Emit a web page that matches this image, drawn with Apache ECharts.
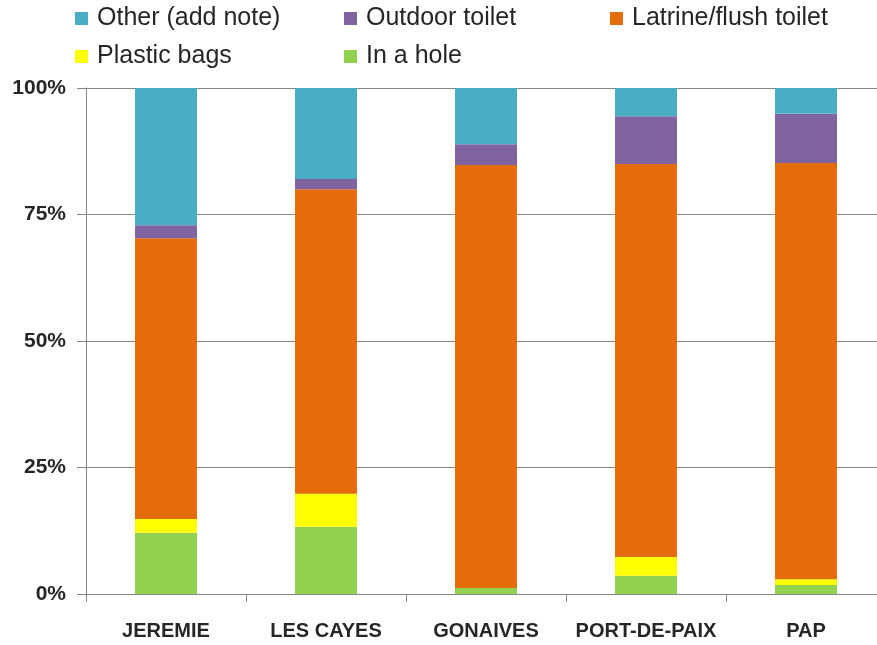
<!DOCTYPE html>
<html>
<head>
<meta charset="utf-8">
<script src="https://cdn.jsdelivr.net/npm/echarts@6/dist/echarts.min.js"></script>
<style>
  html, body { margin: 0; padding: 0; background: #fff; }
  #main { width: 877px; height: 645px; }
</style>
</head>
<body>
<div id="main"></div>
<script>
// 城市
var cities = ['JEREMIE', 'LES CAYES', 'GONAIVES', 'PORT-DE-PAIX', 'PAP'];
// 各类数据（百分比，从底部向上堆叠）
var inAHole = [12.1, 13.3, 1.2, 3.6, 1.8];
var plasticBags = [2.7, 6.5, 0, 3.7, 1.1];
var latrine = [55.5, 60.2, 83.6, 77.7, 82.3];
var outdoor = [2.6, 2.0, 4.1, 9.4, 9.7];
var other = [27.1, 18.0, 11.1, 5.6, 5.1];
var yTicks = ['0%', '25%', '50%', '75%', '100%'];

var myChart = echarts.init(document.getElementById('main'));

var font = 'Liberation Sans';
var labelColor = '#262626';

/**
 * 生成一个图例
 */
function makeLegend(name, left, top) {
    return {
        data: [name],
        left: left,
        top: top,
        itemWidth: 13,
        itemHeight: 13,
        itemGap: 0,
        icon: 'rect',
        textStyle: { fontFamily: font, fontSize: 25, color: labelColor, padding: [0, 0, 0, 4] },
        padding: 0
    };
}

/**
 * 生成一个堆叠柱子系列
 */
function makeSeries(name, data, color) {
    return {
        name: name,
        type: 'bar',
        stack: 'total',
        barWidth: 62,
        data: data,
        itemStyle: { color: color },
        emphasis: { disabled: true }
    };
}

var option = {
    animation: false,
    legend: [
        makeLegend('Other (add note)', 75, 6),
        makeLegend('Outdoor toilet', 344, 6),
        makeLegend('Latrine/flush toilet', 610, 6),
        makeLegend('Plastic bags', 75, 44),
        makeLegend('In a hole', 344, 44)
    ],
    grid: { left: 86, top: 88, width: 800, height: 506, outerBoundsMode: 'none', containLabel: false },
    xAxis: {
        type: 'category',
        data: cities,
        axisLine: { lineStyle: { color: '#868686' } },
        axisTick: { show: true, length: 8, lineStyle: { color: '#868686' } },
        axisLabel: { interval: 0, fontFamily: font, fontSize: 20, fontWeight: 'bold', color: labelColor, margin: 27 }
    },
    yAxis: {
        type: 'value',
        min: 0,
        max: 100,
        interval: 25,
        axisLine: { show: true, lineStyle: { color: '#868686' } },
        axisTick: { show: true, length: 9, lineStyle: { color: '#868686' } },
        splitLine: { lineStyle: { color: '#868686' } },
        axisLabel: {
            fontFamily: font, fontSize: 21, fontWeight: 'bold', color: labelColor, margin: 20,
            formatter: function (v) { return yTicks[v / 25]; }
        }
    },
    series: [
        makeSeries('In a hole', inAHole, '#92D050'),
        makeSeries('Plastic bags', plasticBags, '#FFFF00'),
        makeSeries('Latrine/flush toilet', latrine, '#E46C0A'),
        makeSeries('Outdoor toilet', outdoor, '#8064A2'),
        makeSeries('Other (add note)', other, '#4BACC6')
    ]
};

myChart.setOption(option);
</script>
</body>
</html>
